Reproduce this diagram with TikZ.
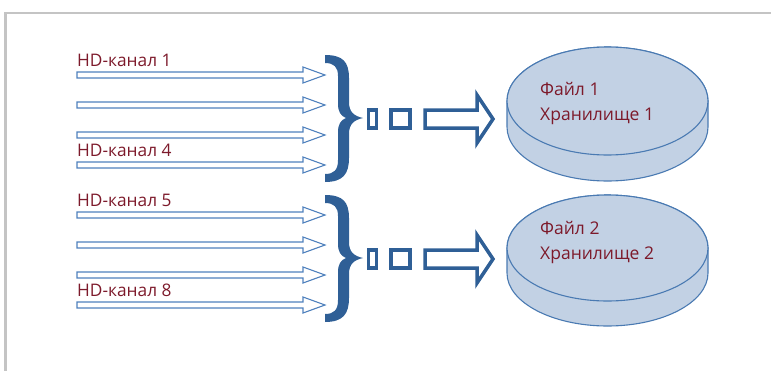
\documentclass[tikz,border=0pt]{standalone}
\usepackage{fontspec}
\setmainfont{Open Sans}
\definecolor{lblred}{HTML}{7D1A2B}
\definecolor{thinblue}{HTML}{4F81BD}
\definecolor{darkblue}{HTML}{2F5F96}
\definecolor{cylfill}{HTML}{C2D1E4}
\definecolor{cylline}{HTML}{4A7AB2}
\definecolor{framegray}{HTML}{C4C4C4}
\begin{document}
\begin{tikzpicture}[x=1pt,y=-1pt,
  thinarrow/.style={draw=thinblue,fill=white,line width=1.1pt,line join=miter},
  boldshape/.style={draw=darkblue,fill=white,line width=3.5pt,line join=miter},
  bracefill/.style={fill=darkblue},
  cyl/.style={draw=cylline,fill=cylfill,line width=1.1pt},
  hdlabel/.style={text=lblred,font=\fontsize{17.3}{19}\selectfont,inner sep=0pt,anchor=base west},
  cyllabel/.style={text=lblred,font=\fontsize{17.5}{19}\selectfont,inner sep=0pt,anchor=base west}]
\useasboundingbox (0,0) rectangle (771,370);
% frame
\draw[framegray,line width=2.5pt] (5.3,372) -- (5.3,13) -- (773,13);
% thin arrows
\foreach \y in {75,105,135,165,215,245,275,305}{
  \draw[thinarrow] (77,\y-3) -- (303,\y-3) -- (303,\y-8) -- (325,\y) -- (303,\y+8) -- (303,\y+3) -- (77,\y+3) -- cycle;
}
% labels
\node[hdlabel] (l1) at (77,66) {HD-канал 1};
\node[hdlabel] (l4) at (77,156.5) {HD-канал 4};
\node[hdlabel] (l5) at (77,206) {HD-канал 5};
\node[hdlabel] (l8) at (77,296) {HD-канал 8};
% braces, small boxes, big arrows
\foreach \d in {0,140}{
  \begin{scope}[yshift=-\d pt]
  \fill[bracefill] (325,55) .. controls (343,55) and (349,62) .. (349,78)
    -- (349,102) .. controls (349,112) and (354,116) .. (363,118)
    .. controls (354,120) and (349,124) .. (349,134)
    -- (349,158) .. controls (349,174) and (343,182) .. (325,182)
    -- (325,174) .. controls (334,174) and (338,170) .. (338,160)
    -- (338,132) .. controls (338,124) and (341,120) .. (346,118)
    .. controls (341,116) and (338,112) .. (338,104)
    -- (338,76) .. controls (338,67) and (334,63) .. (325,63) -- cycle;
  \draw[boldshape] (368.5,110) rectangle (376.5,128);
  \draw[boldshape] (391,110) rectangle (410,128);
  \draw[boldshape] (425,110) -- (477,110) -- (477,95) -- (493,119) -- (477,143) -- (477,128) -- (425,128) -- cycle;
  \end{scope}
}
% cylinders
\draw[cyl] (507,101) -- (507,127) arc[start angle=180,end angle=0,x radius=100.5,y radius=54]
  -- (708,101) arc[start angle=0,end angle=-180,x radius=100.5,y radius=54] -- cycle;
\draw[cyl] (607.5,101) ellipse[x radius=100.5,y radius=54];
\draw[cyl] (507,248) -- (507,273) arc[start angle=180,end angle=0,x radius=100.5,y radius=53]
  -- (708,248) arc[start angle=0,end angle=-180,x radius=100.5,y radius=53] -- cycle;
\draw[cyl] (607.5,248) ellipse[x radius=100.5,y radius=53];
\node[cyllabel] (f1) at (540,95) {Файл 1};
\node[cyllabel] (s1) at (540,120) {Хранилище 1};
\node[cyllabel] (f2) at (540,234) {Файл 2};
\node[cyllabel] (s2) at (540,259) {Хранилище 2};
\end{tikzpicture}
\end{document}
